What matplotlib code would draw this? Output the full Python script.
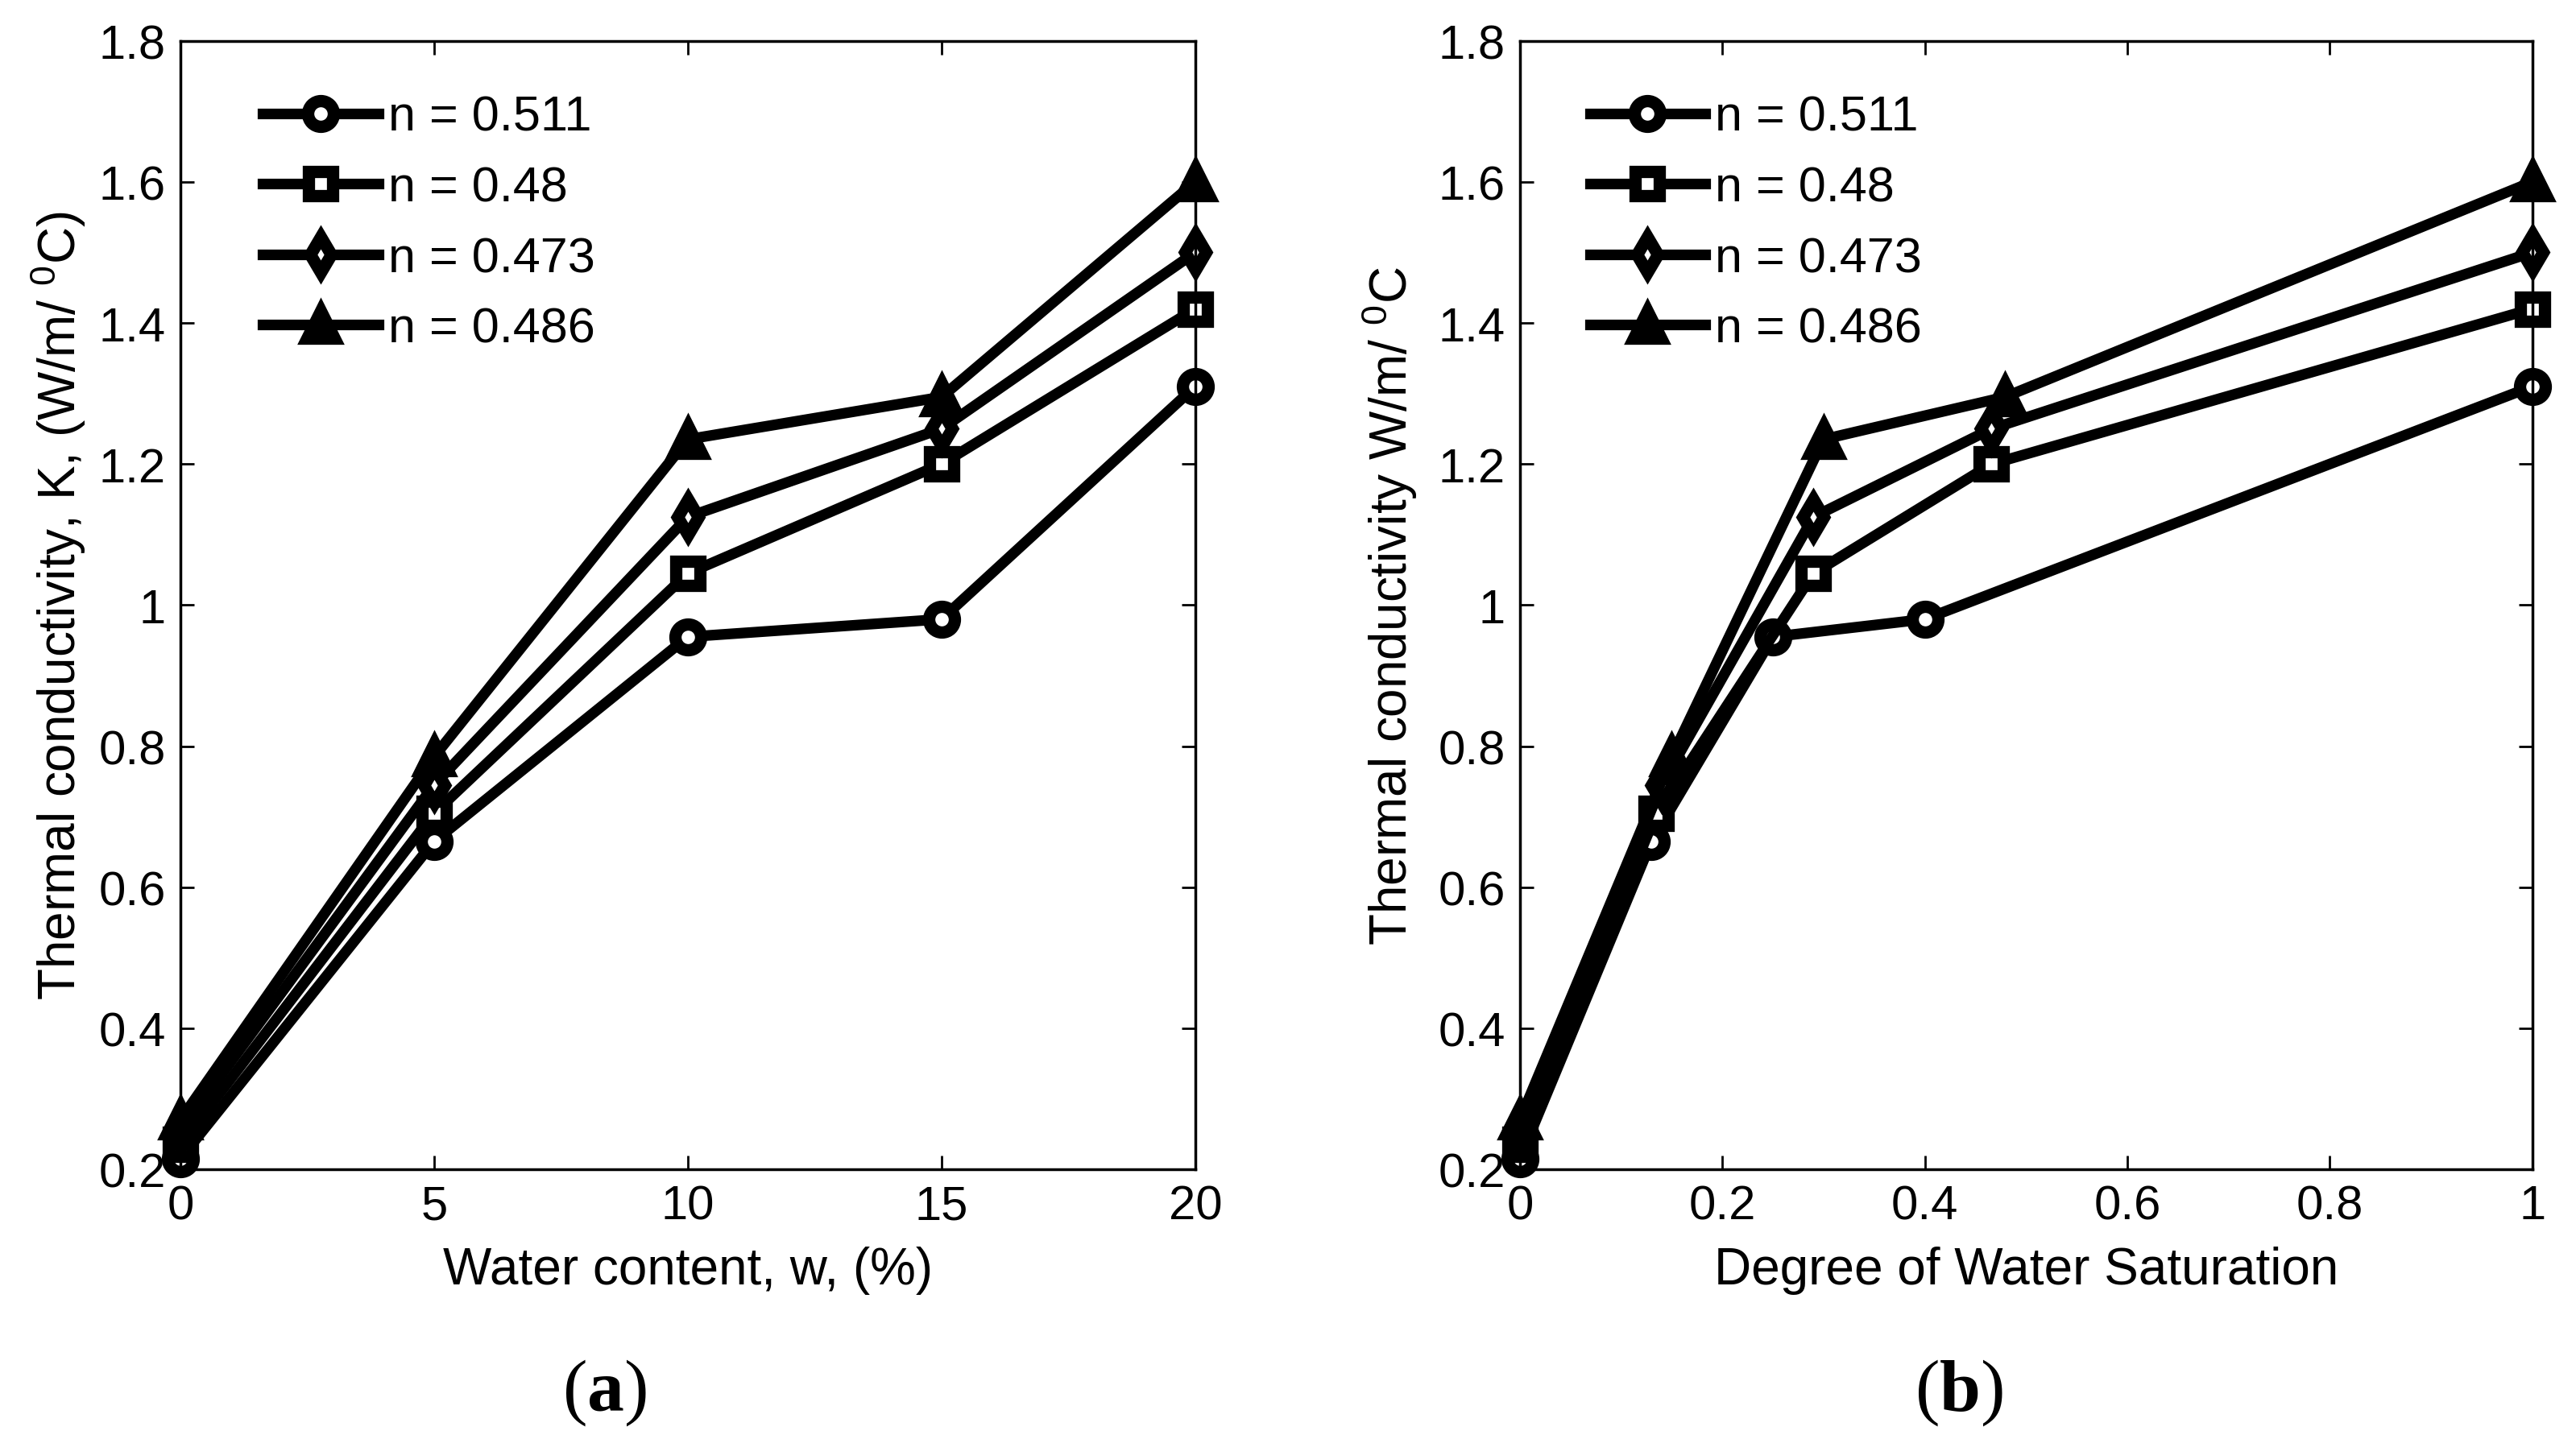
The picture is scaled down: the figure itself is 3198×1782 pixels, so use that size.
import matplotlib
matplotlib.use("Agg")
import matplotlib.pyplot as plt
from matplotlib.ticker import FuncFormatter

plt.rcParams['font.family'] = ['Liberation Sans', 'DejaVu Sans']
plt.rcParams['mathtext.fontset'] = 'custom'
plt.rcParams['mathtext.rm'] = 'Liberation Sans'
plt.rcParams['mathtext.bf'] = 'Liberation Serif:bold'

# porosity labels
labels = ['n = 0.511', 'n = 0.48', 'n = 0.473', 'n = 0.486']

# (a) water content
water = [0, 5, 10, 15, 20]
k_511 = [0.215, 0.665, 0.955, 0.98, 1.31]
k_480 = [0.235, 0.705, 1.045, 1.20, 1.42]
k_473 = [0.255, 0.745, 1.125, 1.25, 1.50]
k_486 = [0.27, 0.785, 1.235, 1.295, 1.60]

# (b) degree of saturation, one x row per series
sat_511 = [0, 0.13, 0.25, 0.40, 1.0]
sat_480 = [0, 0.135, 0.29, 0.466, 1.0]
sat_473 = [0, 0.14, 0.29, 0.466, 1.0]
sat_486 = [0, 0.15, 0.30, 0.479, 1.0]

FS = 43      # tick labels
LFS = 46     # axis labels
styles = [dict(marker='o', ms=23, mfc='white'),
          dict(marker='s', ms=22, mfc='white'),
          dict(marker='d', ms=22, mfc='white'),
          dict(marker='^', ms=24, mfc='black')]

fig = plt.figure(figsize=(31.98, 17.83), dpi=100)
ax1 = fig.add_axes([0.070, 0.185, 0.394, 0.786])
ax2 = fig.add_axes([0.590, 0.185, 0.393, 0.786])


def draw(ax, xs, ys):
    for x, y, st, lab in zip(xs, ys, styles, labels):
        ax.plot(x, y, color='black', lw=9.5, mec='black', mew=11,
                label=lab, clip_on=False, **st)


draw(ax1, [water] * 4, [k_511, k_480, k_473, k_486])
draw(ax2, [sat_511, sat_480, sat_473, sat_486], [k_511, k_480, k_473, k_486])

ax1.set_xlim(0, 20)
ax1.set_xticks([0, 5, 10, 15, 20])
ax2.set_xlim(0, 1)
ax2.set_xticks([0, 0.2, 0.4, 0.6, 0.8, 1.0])

fmt = FuncFormatter(lambda v, p: f'{v:g}')
for ax in (ax1, ax2):
    ax.set_ylim(0.2, 1.8)
    ax.set_yticks([0.2, 0.4, 0.6, 0.8, 1.0, 1.2, 1.4, 1.6, 1.8])
    ax.xaxis.set_major_formatter(fmt)
    ax.yaxis.set_major_formatter(fmt)
    ax.tick_params(direction='in', length=12, width=2, labelsize=FS, pad=13,
                   top=True, right=True)
    for s in ax.spines.values():
        s.set_linewidth(2.5)
    ax.legend(loc='upper left', frameon=False, fontsize=44,
              handlelength=2.35, handletextpad=0.2, labelspacing=0.5,
              borderpad=0, borderaxespad=0,
              bbox_to_anchor=(0.081 if ax is ax1 else 0.069, 0.952))

ax1.set_xlabel('Water content, w, (%)', fontsize=LFS)
ax1.set_ylabel(r'Thermal conductivity, K, (W/m/ $^{0}$C)', fontsize=LFS)
ax2.set_xlabel('Degree of Water Saturation', fontsize=LFS)
ax2.set_ylabel(r'Thermal conductivity W/m/ $^{0}$C', fontsize=LFS)
ax1.xaxis.set_label_coords(0.5, -0.068)
ax2.xaxis.set_label_coords(0.5, -0.068)
ax1.yaxis.set_label_coords(-0.091, 0.5)
ax2.yaxis.set_label_coords(-0.099, 0.5)

fig.text(0.2345, 0.03, r'($\mathbf{a}$)', fontsize=66, family='Liberation Serif',
         ha='center', va='center')
fig.text(0.7605, 0.03, r'($\mathbf{b}$)', fontsize=66, family='Liberation Serif',
         ha='center', va='center')

fig.savefig('out.png', dpi=100)
